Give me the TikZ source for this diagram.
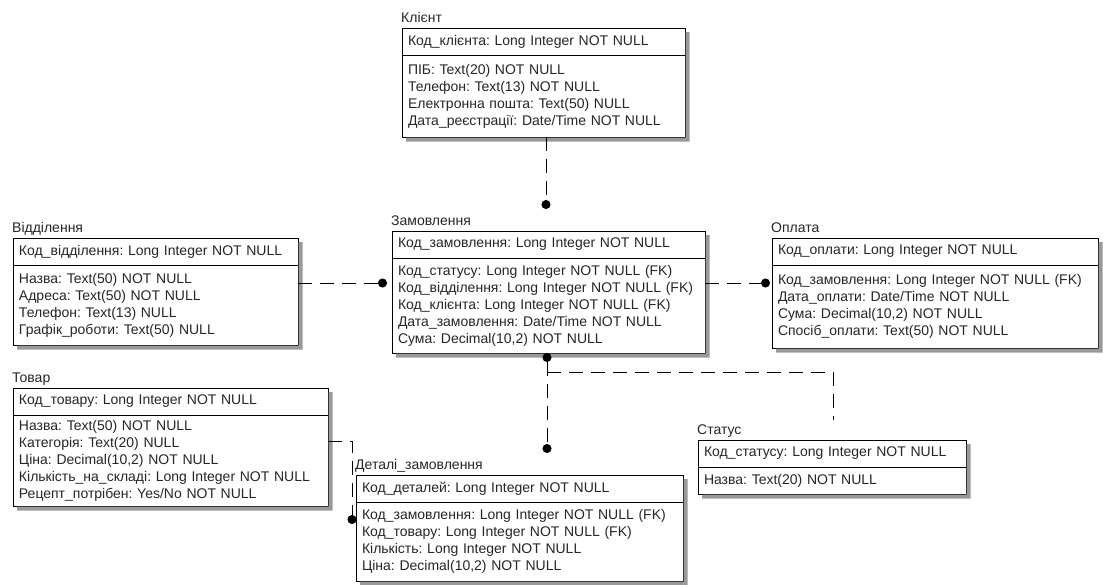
\documentclass[tikz,border=0pt]{standalone}
\usepackage{fontspec}
\setmainfont{Liberation Sans}
\usepackage{tikz}
\usetikzlibrary{arrows.meta, positioning, calc}

\begin{document}
\frenchspacing
\begin{tikzpicture}[
  x=1pt, y=-1pt,
  every node/.style={font=\fontsize{14}{17}\selectfont, text=black!85},
  tabhead/.style={draw, line width=0.8pt, fill=white, anchor=north west, outer sep=0pt,
    inner xsep=6pt, inner ysep=0pt, text width=#1, align=left, minimum height=27pt},
  tabbody/.style={tabhead=#1, anchor=north west},
  tabtitle/.style={anchor=base west, inner sep=0pt, xshift=-1pt, yshift=6pt},
  tabshadow/.style={fill=black!40, draw=none},
  rel/.style={line width=1pt, dash pattern=on 14pt off 8pt},
  dot/.style={-{Circle[length=9pt]}},
]
  \useasboundingbox (0,0) rectangle (1103,584);

  % Klient
  \node[tabhead=271pt] (klient) at (402,28) {Код\_клієнта: Long Integer NOT NULL};
  \node[tabbody=271pt, minimum height=82pt] (klientB) at (klient.south west)
    {ПІБ: Text(20) NOT NULL\\Телефон: Text(13) NOT NULL\\Електронна пошта: Text(50) NULL\\Дата\_реєстрації: Date/Time NOT NULL};
  \node[tabtitle] (klientT) at (klient.north west) {Клієнт};

  % Viddilennia
  \node[tabhead=273pt] (vidd) at (13,238) {Код\_відділення: Long Integer NOT NULL};
  \node[tabbody=273pt, minimum height=80pt] (viddB) at (vidd.south west)
    {Назва: Text(50) NOT NULL\\Адреса: Text(50) NOT NULL\\Телефон: Text(13) NULL\\Графік\_роботи: Text(50) NULL};
  \node[tabtitle] (viddT) at (vidd.north west) {Відділення};

  % Zamovlennia
  \node[tabhead=301pt] (zamov) at (392,231) {Код\_замовлення: Long Integer NOT NULL};
  \node[tabbody=301pt, minimum height=95pt] (zamovB) at (zamov.south west)
    {Код\_статусу: Long Integer NOT NULL (FK)\\Код\_відділення: Long Integer NOT NULL (FK)\\Код\_клієнта: Long Integer NOT NULL (FK)\\Дата\_замовлення: Date/Time NOT NULL\\Сума: Decimal(10,2) NOT NULL};
  \node[tabtitle] (zamovT) at (zamov.north west) {Замовлення};

  % Oplata
  \node[tabhead=314pt] (oplata) at (772,238) {Код\_оплати: Long Integer NOT NULL};
  \node[tabbody=314pt, minimum height=83pt] (oplataB) at (oplata.south west)
    {Код\_замовлення: Long Integer NOT NULL (FK)\\Дата\_оплати: Date/Time NOT NULL\\Сума: Decimal(10,2) NOT NULL\\Спосіб\_оплати: Text(50) NOT NULL};
  \node[tabtitle] (oplataT) at (oplata.north west) {Оплата};

  % Tovar
  \node[tabhead=303pt] (tovar) at (13,388) {Код\_товару: Long Integer NOT NULL};
  \node[tabbody=303pt, minimum height=91pt] (tovarB) at (tovar.south west)
    {Назва: Text(50) NOT NULL\\Категорія: Text(20) NULL\\Ціна: Decimal(10,2) NOT NULL\\Кількість\_на\_складі: Long Integer NOT NULL\\Рецепт\_потрібен: Yes/No NOT NULL};
  \node[tabtitle] (tovarT) at (tovar.north west) {Товар};

  % Detali zamovlennia
  \node[tabhead=315pt] (detali) at (356,475) {Код\_деталей: Long Integer NOT NULL};
  \node[tabbody=315pt, minimum height=79pt] (detaliB) at (detali.south west)
    {Код\_замовлення: Long Integer NOT NULL (FK)\\Код\_товару: Long Integer NOT NULL (FK)\\Кількість: Long Integer NOT NULL\\Ціна: Decimal(10,2) NOT NULL};
  \node[tabtitle] (detaliT) at (detali.north west) {Деталі\_замовлення};

  % Status
  \node[tabhead=256pt] (status) at (698,440) {Код\_статусу: Long Integer NOT NULL};
  \node[tabbody=256pt, minimum height=27pt] (statusB) at (status.south west) {Назва: Text(20) NOT NULL};
  \node[tabtitle] (statusT) at (status.north west) {Статус};

  % Shadows (right and bottom edge of each table)
  \foreach \tab in {klient, vidd, zamov, oplata, tovar, detali, status}
    \fill[tabshadow] ($(\tab.north east)+(0.5,4)$) -- ++(4,0) |- ($(\tab B.south west)+(4,4.5)$)
      -- ++(0,-4) -| cycle;

  % Relationships
  \coordinate (kz) at (546,209);
  \draw[rel, dot] (klientB.south -| kz) -- (kz);
  \coordinate (vz) at (387,283);
  \draw[rel, dot] (viddB.east |- vz) -- (vz);
  \coordinate (zo) at (770,283);
  \draw[rel, dot] (zamovB.east |- zo) -- (zo);
  \coordinate (zd) at (547,453);
  \draw[rel, {Circle[length=9pt]}-{Circle[length=9pt]}] (zamovB.south -| zd) -- (zd);
  \coordinate (zbend) at (547,372);
  \coordinate (zs) at (833,420);
  \draw[rel] (zbend) -| (zs);
  \coordinate (td) at (352,524);
  \draw[rel, dot] (tovarB.east |- 0,441) -| (td);
\end{tikzpicture}
\end{document}
